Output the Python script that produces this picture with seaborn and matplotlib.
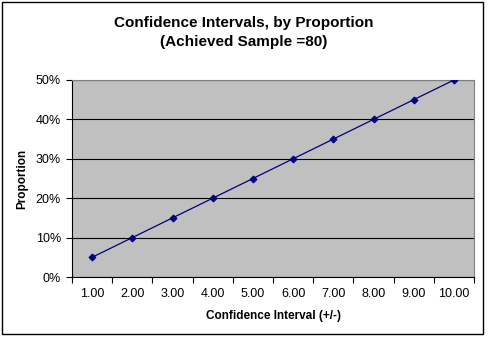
import matplotlib
matplotlib.use("Agg")
import matplotlib.pyplot as plt
import seaborn as sns
import pandas as pd
import numpy as np
from matplotlib.patches import Rectangle
from matplotlib.ticker import FixedLocator, PercentFormatter

categories = ["1.00", "2.00", "3.00", "4.00", "5.00", "6.00", "7.00", "8.00", "9.00", "10.00"]
proportion = [0.05, 0.10, 0.15, 0.20, 0.25, 0.30, 0.35, 0.40, 0.45, 0.50]

sns.set_style("white")
plt.rcParams['font.family'] = ['Liberation Sans', 'DejaVu Sans']

df = pd.DataFrame({"idx": np.arange(len(categories)), "prop": proportion})

fig = plt.figure(figsize=(4.88, 3.39), dpi=100)
ax = fig.add_axes([72/488, 62/339, 402/488, 197/339])
ax.set_facecolor("#C0C0C0")

sns.lineplot(data=df, x="idx", y="prop", ax=ax, color="#000080", marker="D",
             markersize=3.5, markeredgecolor="#000080", linewidth=0.9, zorder=3)

ax.set_xlim(-0.5, len(categories) - 0.5)
ax.set_ylim(0, 0.5)
ax.set_yticks([0, 0.1, 0.2, 0.3, 0.4, 0.5])
ax.yaxis.set_major_formatter(PercentFormatter(1.0, decimals=0))
ax.yaxis.grid(True, color="black", linewidth=0.8)
ax.set_axisbelow(True)

ax.xaxis.set_major_locator(FixedLocator(np.arange(-0.5, len(categories), 1.0)))
ax.set_xticklabels([])
ax.xaxis.set_minor_locator(FixedLocator(np.arange(len(categories))))
ax.set_xticklabels(categories, minor=True)
ax.tick_params(axis="x", which="major", length=4, width=0.8, color="black", direction="out", bottom=True)
ax.tick_params(axis="x", which="minor", length=0, labelsize=9, pad=8, labelcolor="black")
ax.tick_params(axis="y", which="major", length=4, width=0.8, color="black", direction="out", left=True,
               labelsize=9, pad=4, labelcolor="black")

for s in ["left", "bottom"]:
    ax.spines[s].set_color("black")
    ax.spines[s].set_linewidth(0.8)
for s in ["top", "right"]:
    ax.spines[s].set_color("#808080")
    ax.spines[s].set_linewidth(0.8)

ax.set_xlabel("Confidence Interval (+/-)", fontsize=8.5, fontweight="bold", labelpad=7, color="black")
ax.set_ylabel("Proportion", fontsize=8.5, fontweight="bold", labelpad=5, color="black")

fig.text(0.5, 1 - 23/339, "Confidence Intervals, by Proportion", ha="center", va="center",
         fontsize=11, fontweight="bold", color="black")
fig.text(0.5, 1 - 42/339, "(Achieved Sample =80)", ha="center", va="center",
         fontsize=11, fontweight="bold", color="black")

fig.patches.append(Rectangle((2/488, 1 - 334/339), 481/488, 332/339, transform=fig.transFigure,
                             fill=False, edgecolor="black", linewidth=1.0))

fig.savefig("out.png", dpi=100, facecolor="white")
